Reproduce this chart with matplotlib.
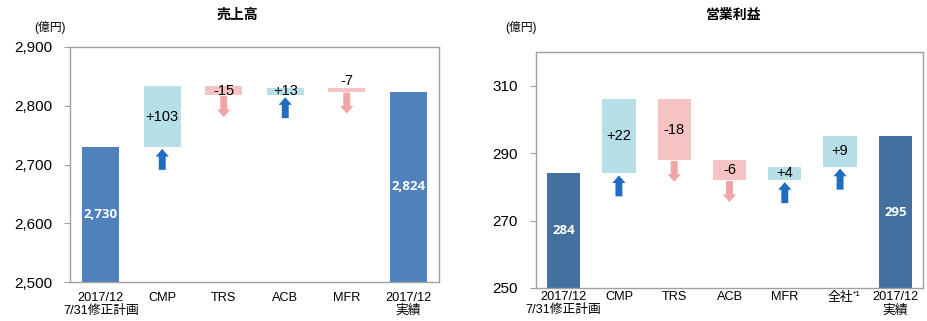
import matplotlib
matplotlib.use("Agg")
import matplotlib.pyplot as plt
from matplotlib.transforms import offset_copy

plt.rcParams['font.family'] = ['Liberation Sans', 'Noto Sans CJK JP', 'DejaVu Sans']

# 売上高
sales_labels = ['2017/12\n7/31修正計画', 'CMP', 'TRS', 'ACB', 'MFR', '2017/12\n実績']
sales_start = 2730
sales_delta = [103, -15, 13, -7]
sales_end = 2824
sales_ticks = [2500, 2600, 2700, 2800, 2900]

# 営業利益
op_labels = ['2017/12\n7/31修正計画', 'CMP', 'TRS', 'ACB', 'MFR', '全社', '2017/12\n実績']
op_start = 284
op_delta = [22, -18, -6, 4, 9]
op_end = 295
op_ticks = [250, 270, 290, 310]

UP_BAR = '#b7dfe8'
DOWN_BAR = '#f5c3c3'
UP_ARROW = '#1f6cc1'
DOWN_ARROW = '#f2a5a5'
SPINE = '#a0a0a0'

W, H = 928, 321
fig = plt.figure(figsize=(W / 100, H / 100), dpi=100)


def waterfall(ax, labels, start, deltas, end, ylim, ticks, total_color, xpad, fmt):
    n = len(labels)
    base = ylim[0]
    span = ylim[1] - ylim[0]
    # 開始・終了バー
    ax.bar([0, n - 1], [start - base, end - base], bottom=base, width=0.6,
           color=total_color, zorder=2)
    for x, v in [(0, start), (n - 1, end)]:
        ax.text(x, (base + v) / 2, fmt(v), ha='center', va='center', color='white',
                fontsize=9.5, fontweight='bold', family=['Open Sans', 'DejaVu Sans'], zorder=3)
    level = start
    for i, d in enumerate(deltas):
        x = i + 1
        lo, hi = min(level, level + d), max(level, level + d)
        ax.bar(x, hi - lo, bottom=lo, width=0.6,
               color=UP_BAR if d > 0 else DOWN_BAR, zorder=2)
        txt = ('+%d' % d) if d > 0 else ('%d' % d)
        if abs(d) / span < 0.03:
            ax.text(x, hi, txt, ha='center', va='bottom', fontsize=10.5, zorder=3)
        else:
            ax.text(x, (lo + hi) / 2, txt, ha='center', va='center', fontsize=10.5, zorder=3)
        # 矢印 (バーの下)
        L = 21
        style = 'simple,head_length=0.55,head_width=0.95,tail_width=0.5'
        if d > 0:
            tip_tr = offset_copy(ax.transData, fig=fig, y=-2, units='dots')
            ax.annotate('', xy=(x, lo), xycoords=tip_tr, xytext=(0, -L),
                        textcoords='offset pixels',
                        arrowprops=dict(arrowstyle=style, color=UP_ARROW, lw=0,
                                        shrinkA=0, shrinkB=0, mutation_scale=10))
        else:
            tip_tr = offset_copy(ax.transData, fig=fig, y=-(L + 1), units='dots')
            ax.annotate('', xy=(x, lo), xycoords=tip_tr, xytext=(0, L),
                        textcoords='offset pixels',
                        arrowprops=dict(arrowstyle=style, color=DOWN_ARROW, lw=0,
                                        shrinkA=0, shrinkB=0, mutation_scale=10))
        level += d
    ax.set_xlim(-0.5, n - 0.5)
    ax.set_ylim(*ylim)
    ax.set_yticks(ticks)
    ax.set_yticklabels(['{:,}'.format(t) for t in ticks], fontsize=11)
    ax.set_xticks(range(n))
    ax.set_xticklabels(labels, fontsize=9.2, linespacing=1.1)
    ax.tick_params(axis='x', length=0, pad=xpad)
    ax.tick_params(axis='y', length=4, color=SPINE, pad=9)
    for s in ax.spines.values():
        s.set_color(SPINE)
        s.set_linewidth(1)


ax1 = fig.add_axes([70 / W, 1 - 282 / H, 369 / W, 235 / H])
waterfall(ax1, sales_labels, sales_start, sales_delta, sales_end, (2500, 2900),
          sales_ticks, '#4f81bd', 7, lambda v: '{:,}'.format(v))

ax2 = fig.add_axes([536 / W, 1 - 288 / H, 387 / W, 236 / H])
waterfall(ax2, op_labels, op_start, op_delta, op_end, (250, 320),
          op_ticks, '#44709f', 2.5, lambda v: '%d' % v)
# 全社の注記
ax2.annotate('*1', xy=(5, 0), xycoords=('data', 'axes fraction'), xytext=(9.5, -2.5),
             textcoords='offset points', fontsize=6, ha='left', va='top')

fig.text(237 / W, 1 - 15 / H, '売上高', ha='center', va='center', fontsize=10,
         fontweight='bold')
fig.text(734 / W, 1 - 15 / H, '営業利益', ha='center', va='center', fontsize=10,
         fontweight='bold')
fig.text(50 / W, 1 - 27 / H, '(億円)', ha='center', va='center', fontsize=8.5)
fig.text(521 / W, 1 - 27 / H, '(億円)', ha='center', va='center', fontsize=8.5)

fig.savefig('out.png', dpi=100)
